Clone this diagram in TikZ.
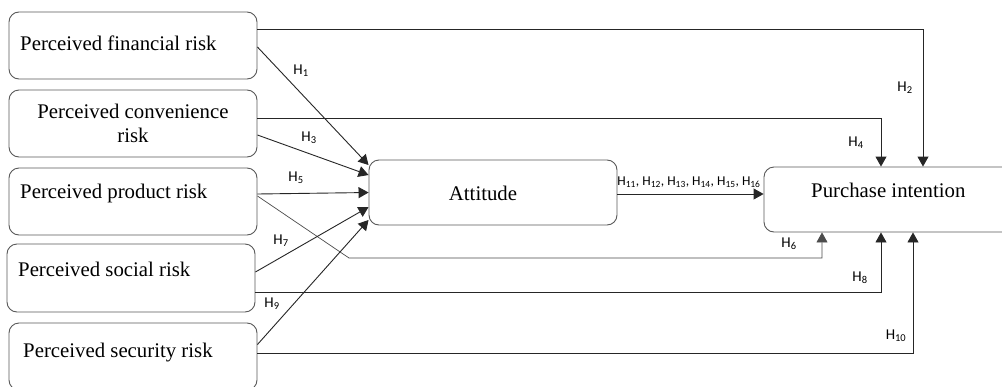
\documentclass[tikz,border=0pt]{standalone}
\usepackage{fontspec}
\setmainfont{Liberation Serif}
\newfontfamily\labfont{Carlito}
\usetikzlibrary{arrows.meta,calc}
\begin{document}
\begin{tikzpicture}[x=1pt,y=-1pt,
  box/.style={draw=black!65,line width=0.9pt,rounded corners=10pt,
    minimum width=248pt,minimum height=67pt,inner sep=0pt},
  txt/.style={inner sep=0pt,font=\fontsize{20.8}{24}\selectfont},
  link/.style={draw=black!85,line width=0.9pt,-{Triangle[length=10pt,width=11pt]}},
  thin link/.style={link,draw=black!70,line width=0.7pt},
  hyp/.style={inner sep=0pt,font=\labfont\fontsize{15}{17}\selectfont},
  hypsmall/.style={inner sep=0pt,font=\labfont\fontsize{13.5}{15}\selectfont}]
\clip (0,0) rectangle (1002,386);
\fill[white] (0,0) rectangle (1002,386);

% predictor boxes
\node[box] (fin)  at (133,45.5)  {};
\node[box] (conv) at (133,123.5) {};
\node[box] (prod) at (133,201.5) {};
\node[box,minimum height=68pt] (soc) at (131,278) {};
\node[box] (sec)  at (133,356.5) {};
% mediator and outcome
\node[box,minimum height=65pt] (att) at (493,192.5) {};
\node[box,minimum height=65pt] (pi)  at (888,199.5) {};

% box captions
\node[txt,anchor=base west] (tfin) at (20,50) {Perceived financial risk};
\node[txt,anchor=base,align=center] (tconv) at (133,142) {Perceived convenience\\risk};
\node[txt,anchor=base west] (tprod) at (20,198) {Perceived product risk};
\node[txt,anchor=base west] (tsoc) at (18,276) {Perceived social risk};
\node[txt,anchor=base west] (tsec) at (23,357) {Perceived security risk};
\node[txt,anchor=base] (tatt) at (483,200) {Attitude};
\node[txt,anchor=base west] (tpi) at (811,197) {Purchase intention};

% direct paths to purchase intention
\draw[link] ([yshift=16.5pt]fin.east) -| ([xshift=35pt]pi.north);
\draw[link] ([yshift=5.5pt]conv.east) -| ([xshift=-7pt]pi.north);
\draw[thin link] ([yshift=5.5pt]prod.east) -- (349,258) -| ([xshift=-66pt]pi.south);
\draw[link] ([yshift=-14pt]soc.east) -| ([xshift=-7pt]pi.south);
\draw[link] ([yshift=3pt]sec.east) -| ([xshift=25pt]pi.south);

% paths to attitude
\draw[link] ([yshift=-1.5pt]fin.east) -- ([yshift=27.5pt]att.west);
\draw[link] ([yshift=-11.5pt]conv.east) -- ([yshift=17.5pt]att.west);
\draw[link] ([yshift=7.5pt]prod.east) -- (att.west);
\draw[link] ([yshift=6pt]soc.east) -- ([yshift=-14.5pt]att.west);
\draw[link] ([yshift=12pt]sec.east) -- ([yshift=-27.5pt]att.west);

% attitude to purchase intention
\draw[link] ([yshift=-1.5pt]att.east) -- ([yshift=5.5pt]pi.west);

% hypothesis labels
\node[hyp] (h1) at (301,71) {H\textsubscript{1}};
\node[hyp] (h2) at (905,88) {H\textsubscript{2}};
\node[hyp] (h3) at (309,138) {H\textsubscript{3}};
\node[hyp] (h4) at (856,143) {H\textsubscript{4}};
\node[hyp] (h5) at (296,178) {H\textsubscript{5}};
\node[hyp] (h6) at (789,244) {H\textsubscript{6}};
\node[hyp] (h7) at (281,241) {H\textsubscript{7}};
\node[hyp] (h8) at (860,278) {H\textsubscript{8}};
\node[hyp] (h9) at (272,304) {H\textsubscript{9}};
\node[hyp] (h10) at (896,336) {H\textsubscript{10}};
\node[hypsmall] (h11) at (689,182) {H\textsubscript{11}, H\textsubscript{12}, H\textsubscript{13}, H\textsubscript{14}, H\textsubscript{15}, H\textsubscript{16}};
\end{tikzpicture}
\end{document}
